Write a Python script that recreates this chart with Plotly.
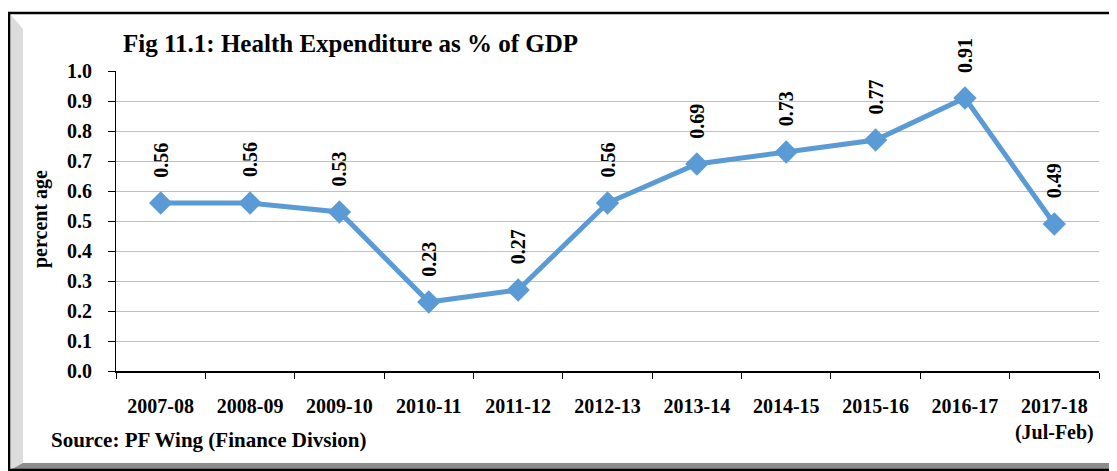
import plotly.graph_objects as go

W, H = 1117, 471

years = ['2007-08', '2008-09', '2009-10', '2010-11', '2011-12', '2012-13',
         '2013-14', '2014-15', '2015-16', '2016-17', '2017-18<br>(Jul-Feb)']
health_pct = [0.56, 0.56, 0.53, 0.23, 0.27, 0.56, 0.69, 0.73, 0.77, 0.91, 0.49]
y_ticks = [0.0, 0.1, 0.2, 0.3, 0.4, 0.5, 0.6, 0.7, 0.8, 0.9, 1.0]

serif = "Liberation Serif, Times New Roman, serif"
blue = '#5B9BD5'

# page body has an 8px margin, so shift everything up/left by that
OFF = 8


def px_x(p):
    return (p - OFF) / W


def px_y(p):
    return (H - (p - OFF)) / H


fig = go.Figure()
fig.add_trace(go.Scatter(
    x=years, y=health_pct,
    mode='lines+markers',
    line=dict(color=blue, width=5),
    marker=dict(symbol='diamond', size=18, color=blue),
    hoverinfo='x+y',
))

# rotated value labels above the markers
for cat, val in zip(years, health_pct):
    fig.add_annotation(
        x=cat, y=val, text=f"<b>{val:.2f}</b>",
        textangle=-90, showarrow=False,
        xanchor='center', yanchor='middle', yshift=43,
        font=dict(family=serif, size=20, color='black'),
    )

fig.update_layout(
    width=W, height=H,
    margin=dict(l=0, r=0, t=0, b=0),
    paper_bgcolor='white', plot_bgcolor='white',
    showlegend=False,
    font=dict(family=serif, color='black'),
    xaxis=dict(
        domain=[px_x(116), px_x(1099)],
        type='category', range=[-0.5, len(years) - 0.5], showgrid=False,
        showline=True, linecolor='black', linewidth=2,
        ticks='outside', tickson='boundaries', ticklen=6, tickcolor='black',
        tickfont=dict(family=serif, size=20, color='black'),
        tickangle=0, ticklabelstandoff=16,
        automargin=False,
    ),
    yaxis=dict(
        domain=[px_y(371), px_y(71)],
        range=[0, 1.0], tickvals=y_ticks, tickformat='.1f',
        showgrid=True, gridcolor='#c0c0c0', gridwidth=1,
        showline=True, linecolor='black', linewidth=1,
        ticks='outside', ticklen=7, tickcolor='black',
        tickfont=dict(family=serif, size=20, color='black'),
        ticklabelstandoff=12,
        zeroline=False, automargin=False,
    ),
)

# bold tick text
fig.update_xaxes(ticktext=[f"<b>{c}</b>" for c in years], tickvals=years)
fig.update_yaxes(ticktext=[f"<b>{v:.1f}</b>" for v in y_ticks])

fig.add_annotation(
    xref='paper', yref='paper', x=px_x(121), y=px_y(44),
    text="<b>Fig 11.1: Health Expenditure as % of GDP</b>",
    showarrow=False, xanchor='left', yanchor='middle',
    font=dict(family=serif, size=25, color='black'),
)
fig.add_annotation(
    xref='paper', yref='paper', x=px_x(40), y=px_y(219),
    text="<b>percent age</b>", textangle=-90,
    showarrow=False, xanchor='center', yanchor='middle',
    font=dict(family=serif, size=20, color='black'),
)
fig.add_annotation(
    xref='paper', yref='paper', x=px_x(49), y=px_y(440),
    text="<b>Source: PF Wing (Finance Divsion)</b>",
    showarrow=False, xanchor='left', yanchor='middle',
    font=dict(family=serif, size=21, color='black'),
)


# frame with bevel strips
def poly(pts):
    return "M " + " L ".join(f"{px_x(a)},{px_y(b)}" for a, b in pts) + " Z"


fig.add_shape(type='path', xref='paper', yref='paper',
              path=poly([(10, 14), (23, 29), (23, 463), (10, 470)]),
              fillcolor='#dcdcdc', line=dict(width=0), layer='below')
fig.add_shape(type='path', xref='paper', yref='paper',
              path=poly([(10, 470), (23, 463), (1125, 463), (1125, 470)]),
              fillcolor='#8c8c8c', line=dict(width=0), layer='below')
fig.add_shape(type='path', xref='paper', yref='paper',
              path=poly([(1115, 27), (1125, 27), (1125, 463), (1115, 463)]),
              fillcolor='#8c8c8c', line=dict(width=0), layer='below')
fig.add_shape(type='rect', xref='paper', yref='paper',
              x0=px_x(9), y0=px_y(470), x1=px_x(1130), y1=px_y(13),
              line=dict(color='black', width=2.5), layer='below')

fig.write_html("out.html")
